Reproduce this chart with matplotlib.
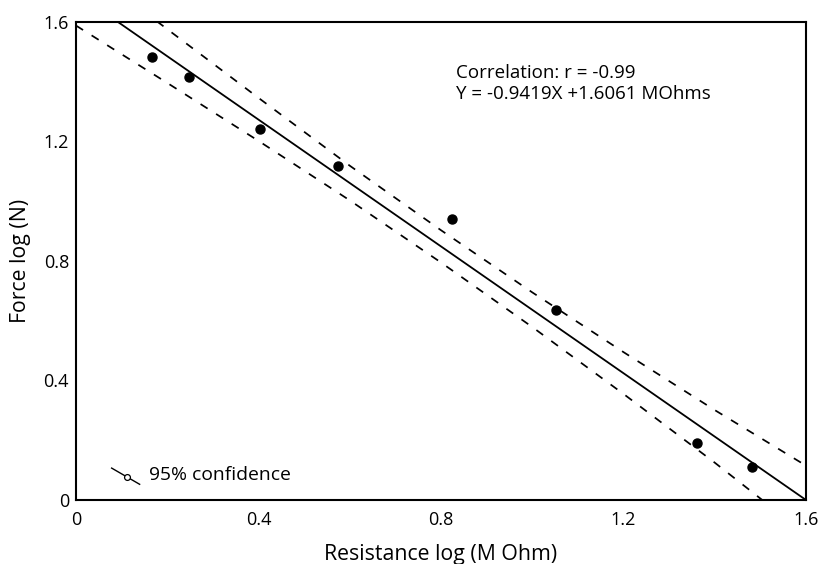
import matplotlib
matplotlib.use('Agg')
import matplotlib.pyplot as plt
from matplotlib.lines import Line2D
from matplotlib.legend_handler import HandlerBase

plt.rcParams['font.family'] = ['Open Sans', 'DejaVu Sans']

# measured points (log resistance vs log force)
resistance = [0.167, 0.248, 0.403, 0.574, 0.824, 1.052, 1.361, 1.482]
force = [1.483, 1.416, 1.242, 1.118, 0.941, 0.636, 0.191, 0.110]

# regression line as drawn in the figure
fit_x = [0.092, 1.6]
fit_y = [1.6, 0.0]

# 95% confidence band
band_x = [0.0, 0.2, 0.4, 0.6, 0.8, 1.0, 1.2, 1.4, 1.6]
band_upper = [1.808, 1.576, 1.346, 1.119, 0.903, 0.695, 0.495, 0.301, 0.115]
band_lower = [1.588, 1.396, 1.202, 1.003, 0.795, 0.579, 0.355, 0.125, -0.115]

ticks = [0, 0.4, 0.8, 1.2, 1.6]
tick_labels = ['0', '0.4', '0.8', '1.2', '1.6']


class SlantHandler(HandlerBase):
    # little slanted line with an open circle, like the original key
    def create_artists(self, legend, orig_handle, xdescent, ydescent,
                       width, height, fontsize, trans):
        line = Line2D([0, width], [height * 0.85, -height * 0.35],
                      color='black', lw=1.0, transform=trans)
        dot = Line2D([width * 0.55], [height * 0.2], marker='o', ms=4.2,
                     mfc='white', mec='black', mew=0.9, transform=trans)
        return [line, dot]


fig = plt.figure(figsize=(8.2, 5.64), dpi=100)
ax = fig.add_axes([0.0927, 0.1135, 0.8902, 0.8475])

ax.plot(fit_x, fit_y, color='black', lw=1.3)
ax.plot(band_x, band_upper, color='black', lw=1.25, dashes=(4.8, 5.8))
ax.plot(band_x, band_lower, color='black', lw=1.25, dashes=(4.8, 5.8))
ax.plot(resistance, force, 'o', color='black', ms=6.5)

ax.set_xlim(0, 1.6)
ax.set_ylim(0, 1.6)
ax.set_xticks(ticks)
ax.set_xticklabels(tick_labels)
ax.set_yticks(ticks)
ax.set_yticklabels(tick_labels)
ax.tick_params(length=0, labelsize=13, pad=5)
ax.tick_params(axis='x', pad=8)

for s in ax.spines.values():
    s.set_linewidth(1.5)

ax.set_xlabel('Resistance log (M Ohm)', fontsize=15.3, labelpad=11)
ax.set_ylabel('Force log (N)', fontsize=15.3, labelpad=9)

ax.text(0.833, 1.46, 'Correlation: r = -0.99\nY = -0.9419X +1.6061 MOhms',
        fontsize=13.5, va='top', ha='left', linespacing=1.2)

key = Line2D([], [])
ax.legend([key], ['95% confidence'], handler_map={Line2D: SlantHandler()},
          loc='lower left', bbox_to_anchor=(0.025, -0.002), frameon=False,
          fontsize=13.9, handlelength=1.45, handletextpad=0.5)

plt.savefig('out.png', dpi=100)
